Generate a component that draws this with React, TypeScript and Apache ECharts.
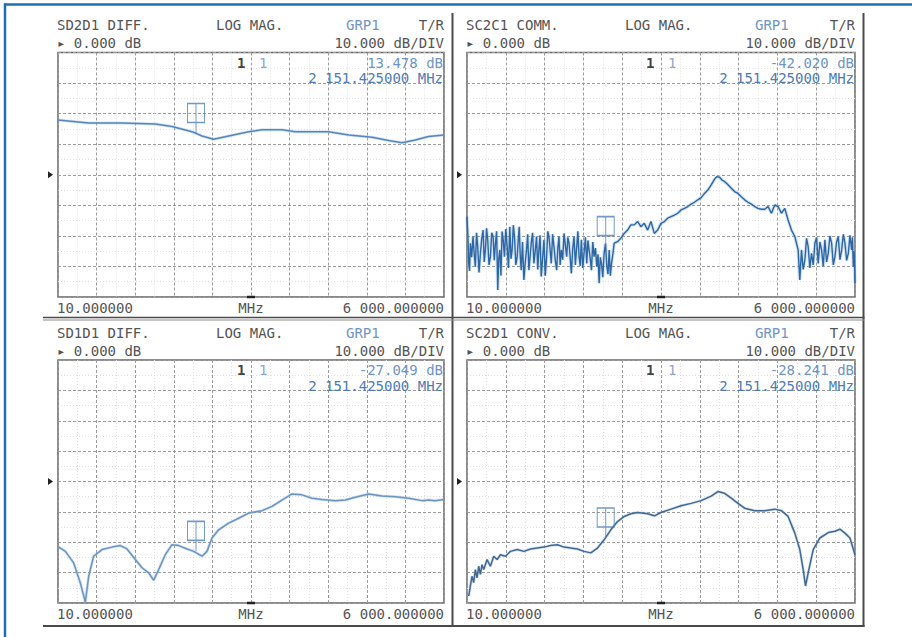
import React, { useEffect, useRef } from "react";
import * as echarts from "echarts";

// ---- data (frequency MHz, level dB) ----
const sdd21: number[][] = [
  [10, 17.9], [486, 16.9], [1003, 16.9], [1520, 16.6], [1779, 15.8], [2089, 14.1],
  [2245, 12.7], [2426, 11.6], [2658, 12.7], [2969, 14.1], [3176, 14.7], [3486, 14.7],
  [3693, 14.1], [4210, 14.1], [4521, 13.0], [4883, 12.3], [5141, 11.2], [5348, 10.5],
  [5555, 11.4], [5762, 12.5], [6000, 13.0],
];

const scc21: number[][] = [
  [10, -13.7], [23, -19.5], [36, -29.0], [49, -31.5], [62, -22.4], [82, -27.0], [103, -20.2],
  [121, -25.8], [139, -30.1], [157, -19.0], [175, -23.5], [196, -32.0], [217, -25.7], [237, -21.0],
  [258, -18.1], [276, -28.5], [294, -24.6], [312, -17.5], [330, -21.3], [350, -29.5], [371, -26.8],
  [392, -19.0], [413, -20.2], [431, -28.0], [449, -22.4], [467, -18.5], [485, -37.7], [500, -27.5],
  [516, -24.6], [534, -33.0], [552, -18.6], [570, -21.5], [588, -26.8], [609, -17.8], [630, -23.5],
  [650, -30.5], [671, -17.0], [689, -27.5], [707, -24.6], [725, -16.5], [743, -20.2], [764, -29.5],
  [785, -26.8], [800, -21.8], [816, -17.0], [831, -26.0], [847, -31.2], [867, -22.0], [888, -34.4],
  [908, -28.8], [929, -24.6], [947, -19.5], [965, -31.2], [983, -27.0], [1001, -22.4], [1022, -19.0],
  [1043, -29.0], [1063, -25.0], [1084, -20.2], [1102, -31.0], [1120, -24.6], [1138, -19.8],
  [1156, -33.3], [1177, -27.5], [1198, -21.3], [1218, -33.0], [1239, -26.8], [1257, -18.5],
  [1275, -20.2], [1293, -24.5], [1311, -29.0], [1332, -19.5], [1353, -23.5], [1373, -28.0],
  [1394, -31.2], [1412, -24.0], [1430, -20.2], [1448, -29.5], [1466, -24.6], [1487, -27.8],
  [1508, -19.2], [1528, -23.0], [1549, -26.8], [1567, -20.5], [1585, -22.4], [1603, -27.0],
  [1621, -32.3], [1641, -24.5], [1662, -20.2], [1683, -29.5], [1704, -23.5], [1722, -18.5],
  [1740, -26.8], [1758, -29.8], [1776, -21.3], [1796, -30.5], [1817, -25.7], [1838, -20.5],
  [1859, -29.0], [1877, -21.5], [1895, -24.6], [1913, -27.5], [1931, -31.2], [1952, -22.0],
  [1972, -26.8], [1993, -24.0], [2014, -30.1], [2032, -26.0], [2050, -35.5], [2068, -27.0],
  [2086, -29.0], [2106, -33.5], [2127, -25.7], [2148, -22.5], [2169, -30.1], [2187, -32.5],
  [2205, -24.6], [2223, -33.0], [2241, -29.0], [2262, -26.0], [2282, -22.4], [2334, -21.9],
  [2385, -20.8], [2437, -19.2], [2489, -18.1], [2540, -16.4], [2592, -16.4], [2644, -15.3],
  [2695, -17.0], [2747, -15.9], [2799, -18.1], [2850, -15.3], [2902, -19.2], [2953, -18.1],
  [3005, -15.9], [3057, -15.3], [3108, -14.2], [3160, -13.7], [3212, -13.2], [3263, -12.6],
  [3315, -11.5], [3367, -11.0], [3418, -10.4], [3470, -9.6], [3522, -9.0], [3573, -8.2],
  [3625, -7.5], [3676, -6.1], [3728, -5.0], [3780, -3.3], [3830, -1.5], [3870, -0.6],
  [3909, -0.8], [3950, -1.8], [3986, -2.2], [4040, -3.3], [4090, -4.4], [4141, -5.5],
  [4193, -6.1], [4245, -7.2], [4296, -8.2], [4348, -9.0], [4399, -9.6], [4451, -10.4],
  [4503, -11.0], [4554, -11.3], [4606, -11.3], [4658, -10.4], [4709, -12.6], [4761, -9.9],
  [4813, -10.4], [4864, -12.6], [4916, -11.0], [4967, -14.8], [5019, -18.1], [5071, -20.2],
  [5122, -24.6], [5148, -34.4], [5174, -24.6], [5200, -31.0], [5226, -27.9], [5252, -20.8],
  [5277, -23.5], [5303, -30.5], [5329, -25.7], [5355, -29.5], [5381, -22.4], [5407, -20.5],
  [5432, -29.0], [5458, -22.0], [5484, -24.6], [5510, -30.0], [5535, -21.3], [5561, -28.5],
  [5587, -25.7], [5613, -20.0], [5639, -22.4], [5665, -29.5], [5690, -26.8], [5716, -22.0],
  [5742, -20.2], [5768, -27.8], [5794, -24.6], [5820, -19.5], [5845, -22.4], [5871, -28.0],
  [5897, -25.7], [5922, -19.8], [5948, -24.6], [5961, -20.5], [5974, -30.1], [5987, -25.0],
  [6000, -35.5],
];

const sdd11: number[][] = [
  [10, -21.4], [124, -23.0], [253, -26.8], [357, -33.4], [434, -39.7], [486, -31.2],
  [563, -24.6], [693, -22.4], [848, -21.6], [977, -21.1], [1081, -22.2], [1210, -25.7],
  [1314, -28.4], [1417, -30.1], [1495, -32.5], [1572, -29.0], [1675, -24.1], [1779, -20.8],
  [1883, -21.1], [2012, -22.2], [2115, -23.0], [2245, -24.6], [2322, -23.0], [2400, -18.6],
  [2503, -15.9], [2658, -13.7], [2814, -12.1], [2969, -10.4], [3176, -9.6], [3331, -8.2],
  [3486, -6.1], [3641, -4.1], [3796, -4.4], [3952, -5.5], [4107, -5.9], [4314, -6.3],
  [4469, -6.1], [4624, -5.2], [4831, -4.1], [5038, -4.8], [5245, -5.0], [5452, -5.5],
  [5659, -6.3], [5762, -6.1], [5866, -6.3], [6000, -5.9],
];

const scd21: number[][] = [
  [36, -37.7], [62, -34.4], [87, -31.2], [113, -33.3], [139, -29.0], [165, -31.7],
  [191, -27.9], [217, -30.6], [242, -27.4], [268, -29.0], [320, -25.7], [371, -27.9],
  [423, -24.6], [475, -25.7], [526, -24.1], [604, -24.6], [681, -23.0], [785, -22.4],
  [888, -23.0], [991, -22.2], [1094, -21.9], [1198, -21.6], [1301, -21.1], [1404, -20.8],
  [1508, -21.6], [1611, -21.9], [1714, -22.2], [1817, -23.0], [1921, -23.5], [2024, -21.9],
  [2127, -19.2], [2230, -15.9], [2334, -13.2], [2437, -11.5], [2540, -10.6], [2644, -10.2],
  [2799, -10.6], [2902, -11.3], [3005, -10.2], [3160, -9.1], [3315, -8.0], [3470, -7.2],
  [3625, -6.3], [3780, -4.8], [3883, -3.3], [3986, -3.9], [4090, -5.5], [4193, -7.2],
  [4296, -8.8], [4451, -9.6], [4606, -9.6], [4761, -9.1], [4864, -9.6], [4967, -11.5],
  [5071, -17.0], [5148, -22.4], [5200, -29.0], [5236, -34.4], [5277, -30.1], [5355, -22.4],
  [5458, -18.6], [5587, -16.8], [5690, -16.4], [5768, -15.7], [5845, -17.0], [5922, -18.6],
  [6000, -24.1],
];

const traces = [sdd21, scc21, sdd11, scd21];
const titles = ["SD2D1 DIFF.", "SC2C1 COMM.", "SD1D1 DIFF.", "SC2D1 CONV."];
const readoutLevels = ["13.478 dB", "-42.020 dB", "-27.049 dB", "-28.241 dB"];
const markerFreq = 2151.425;
const markerFreqText = "2 151.425000 MHz";
const markerLevels = [13.5, -23.5, -23.0, -18.6];
const startLabel = "10.000000";
const stopLabel = "6 000.000000";
const unitLabel = "MHz";
const formatLabel = "LOG MAG.";
const groupLabel = "GRP1";
const ratioLabel = "T/R";
const refLabel = "\u25B8 0.000 dB";
const scaleLabel = "10.000 dB/DIV";
const xStart = 10;
const xStop = 6000;
const yMin = -40;
const yMax = 40;
const yStep = 10;

// ---- layout / style ----
const panels = [
  { L: 58, T: 52.5, W: 386, H: 244.5 },
  { L: 467, T: 52.5, W: 388, H: 244.5 },
  { L: 58, T: 360, W: 386, H: 243 },
  { L: 467, T: 360, W: 388, H: 243 },
];
const traceColors = ["#5786bd", "#2c66a3", "#6d94c2", "#44688f"];
const traceWidths = [1.5, 1.4, 1.5, 1.5];
const haloWidths = [3, 3.5, 3, 3];
const FONT = '"DejaVu Sans Mono", "Liberation Mono", monospace';
const textGray = "#555555";
const blueText = "#6f95c8";

function txt(x: number, y: number, text: string, align: string, fill: string, weight = "normal", size = 14) {
  return {
    type: "text",
    x,
    y,
    z: 50,
    silent: true,
    style: {
      text,
      fill,
      font: `${weight} ${size}px ${FONT}`,
      align,
      textAlign: align,
      verticalAlign: "middle",
      textVerticalAlign: "middle",
    },
  };
}

function line(x1: number, y1: number, x2: number, y2: number, stroke: string, lineWidth: number) {
  return { type: "line", z: 40, silent: true, shape: { x1, y1, x2, y2 }, style: { stroke, lineWidth } };
}

export default function App() {
  const ref = useRef<HTMLDivElement>(null);
  useEffect(() => {
    if (!ref.current) return;
    const chart = echarts.init(ref.current, null, { renderer: "svg" });

    const grids: any[] = [];
    const xAxes: any[] = [];
    const yAxes: any[] = [];
    const series: any[] = [];
    const elements: any[] = [];

    const gridLine = { show: true, lineStyle: { color: "#9c9c9c", type: [3, 2], width: 1 } };
    const minorLine = { show: true, lineStyle: { color: "#e0e0e0", type: [1, 2], width: 1 } };

    panels.forEach((p, i) => {
      grids.push({
        left: p.L, top: p.T, width: p.W, height: p.H,
        show: true, borderColor: "#666", borderWidth: 1.5, backgroundColor: "#fff",
      });
      xAxes.push({
        type: "value", gridIndex: i, min: xStart, max: xStop, show: false,
      });
      xAxes.push({
        type: "value", gridIndex: i, min: 0, max: 10, interval: 1,
        axisLine: { show: false }, axisTick: { show: false }, axisLabel: { show: false },
        splitLine: gridLine,
        minorTick: { show: false, splitNumber: 2 },
        minorSplitLine: minorLine,
      });
      yAxes.push({
        type: "value", gridIndex: i, min: yMin, max: yMax, interval: yStep,
        axisLine: { show: false }, axisTick: { show: false }, axisLabel: { show: false },
        splitLine: gridLine,
        minorTick: { show: false, splitNumber: 2 },
        minorSplitLine: minorLine,
      });
      series.push({
        type: "line", xAxisIndex: 2 * i, yAxisIndex: i, data: traces[i],
        showSymbol: false, symbol: "none", clip: true, z: 4, silent: true,
        lineStyle: { color: "rgba(130,175,225,0.35)", width: haloWidths[i] },
      });
      series.push({
        type: "line", xAxisIndex: 2 * i, yAxisIndex: i, data: traces[i],
        showSymbol: false, symbol: "none", clip: true, z: 5,
        lineStyle: { color: traceColors[i], width: traceWidths[i] },
      });
      series.push({
        type: "scatter", xAxisIndex: 2 * i, yAxisIndex: i, data: [[markerFreq, markerLevels[i]]],
        symbol: "path://M0,0H17V19H0ZM8.5,0V30",
        symbolSize: [17, 30], symbolOffset: [0, -15], z: 6,
        itemStyle: { color: "rgba(0,0,0,0)", borderColor: "#4f7fbf", borderWidth: 1.3 },
      });

      const R = p.L + p.W;
      const cy = p.T + p.H / 2;
      elements.push(txt(p.L - 1, p.T - 27.5, titles[i], "left", textGray));
      elements.push(txt(p.L + 158, p.T - 27.5, formatLabel, "left", textGray));
      elements.push(txt(p.L + 288, p.T - 27.5, groupLabel, "left", blueText));
      elements.push(txt(R, p.T - 27.5, ratioLabel, "right", textGray));
      elements.push(txt(p.L - 1, p.T - 9.5, refLabel, "left", textGray));
      elements.push(txt(R, p.T - 9.5, scaleLabel, "right", textGray));
      elements.push(txt(p.L + 179, p.T + 10, "1", "left", "#444", "bold"));
      elements.push(txt(p.L + 201, p.T + 10, "1", "left", "#8aa8d0"));
      elements.push(txt(R - 1, p.T + 10, readoutLevels[i], "right", blueText));
      elements.push(txt(R - 1, p.T + 25.5, markerFreqText, "right", "#4f7cb8"));
      elements.push(txt(p.L - 1, p.T + p.H + 10.5, startLabel, "left", textGray));
      elements.push(txt(p.L + p.W / 2, p.T + p.H + 10.5, unitLabel, "center", textGray));
      elements.push(txt(R, p.T + p.H + 10.5, stopLabel, "right", textGray));
      elements.push({
        type: "polygon", z: 40, silent: true,
        shape: { points: [[p.L - 10, cy - 3.5], [p.L - 5, cy], [p.L - 10, cy + 3.5]] },
        style: { fill: "#222" },
      });
      elements.push(line(p.L + p.W / 2 - 4, p.T + p.H, p.L + p.W / 2 + 4, p.T + p.H, "#222", 2.5));
    });

    // frames
    elements.push(line(4, 4.5, 912, 4.5, "#1e6fb6", 2.5));
    elements.push(line(5, 3.5, 5, 637, "#1e6fb6", 2.5));
    elements.push(line(452.5, 13, 452.5, 627, "#4a4a4a", 2));
    elements.push(line(863.5, 13, 863.5, 627, "#4a4a4a", 2));
    elements.push(line(43, 317.5, 864.5, 317.5, "#4a4a4a", 1.5));
    elements.push(line(43, 320, 864.5, 320, "#8a8a8a", 1));
    elements.push(line(43, 626, 864.5, 626, "#4a4a4a", 2));

    chart.setOption({
      animation: false,
      backgroundColor: "#ffffff",
      grid: grids,
      xAxis: xAxes,
      yAxis: yAxes,
      series,
      graphic: { elements },
    });
    return () => chart.dispose();
  }, []);
  return <div ref={ref} style={{ position: "fixed", left: 0, top: 0, width: 912, height: 637 }} />;
}
